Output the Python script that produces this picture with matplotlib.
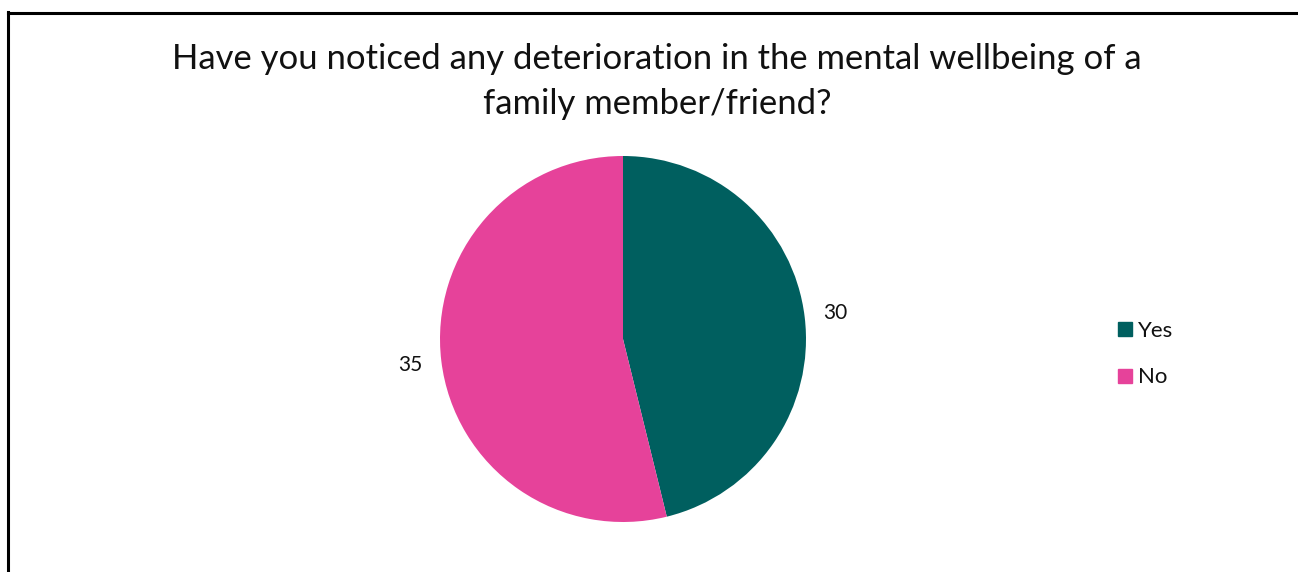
import matplotlib
matplotlib.use("Agg")
import matplotlib.pyplot as plt
from matplotlib.lines import Line2D

categories = ["Yes", "No"]
values = [30, 35]
colors = ["#005F5F", "#E6429A"]
title = "Have you noticed any deterioration in the mental wellbeing of a\nfamily member/friend?"

plt.rcParams['font.family'] = ['Lato', 'DejaVu Sans']

W, H = 1298, 572
fig = plt.figure(figsize=(W / 100, H / 100), dpi=100)
fig.patch.set_facecolor("white")

# border lines (top and left only visible)
fig.add_artist(Line2D([8 / W, 8 / W], [0, 1 - 12 / H], color="black", lw=2.2, transform=fig.transFigure))
fig.add_artist(Line2D([8 / W, 1], [1 - 13 / H, 1 - 13 / H], color="black", lw=2.2, transform=fig.transFigure))

cx, cy, r = 623, 339, 183
ax = fig.add_axes([(cx - r) / W, (H - cy - r) / H, 2 * r / W, 2 * r / H])
total = sum(values)
wedges, texts, autotexts = ax.pie(
    values, colors=colors, startangle=90, counterclock=False,
    autopct=lambda p: f"{round(p * total / 100)}", pctdistance=1.17,
    textprops=dict(fontsize=15, color="#111111"))
ax.set_xlim(-1, 1)
ax.set_ylim(-1, 1)
ax.set_aspect("equal")
ax.axis("off")

fig.text(657 / W, 1 - 81 / H, title, ha="center", va="center", fontsize=24.9,
         color="#111111", linespacing=1.5)

handles = [Line2D([], [], marker="s", linestyle="none", markersize=10.5,
                  markerfacecolor=c, markeredgecolor=c) for c in colors]
fig.legend(handles, categories, loc="center left",
           bbox_to_anchor=(1097 / W, 1 - 354 / H), frameon=False,
           fontsize=16, handlelength=0.7, handletextpad=0.25, labelspacing=1.2,
           labelcolor="#111111")

fig.savefig("out.png", dpi=100)
